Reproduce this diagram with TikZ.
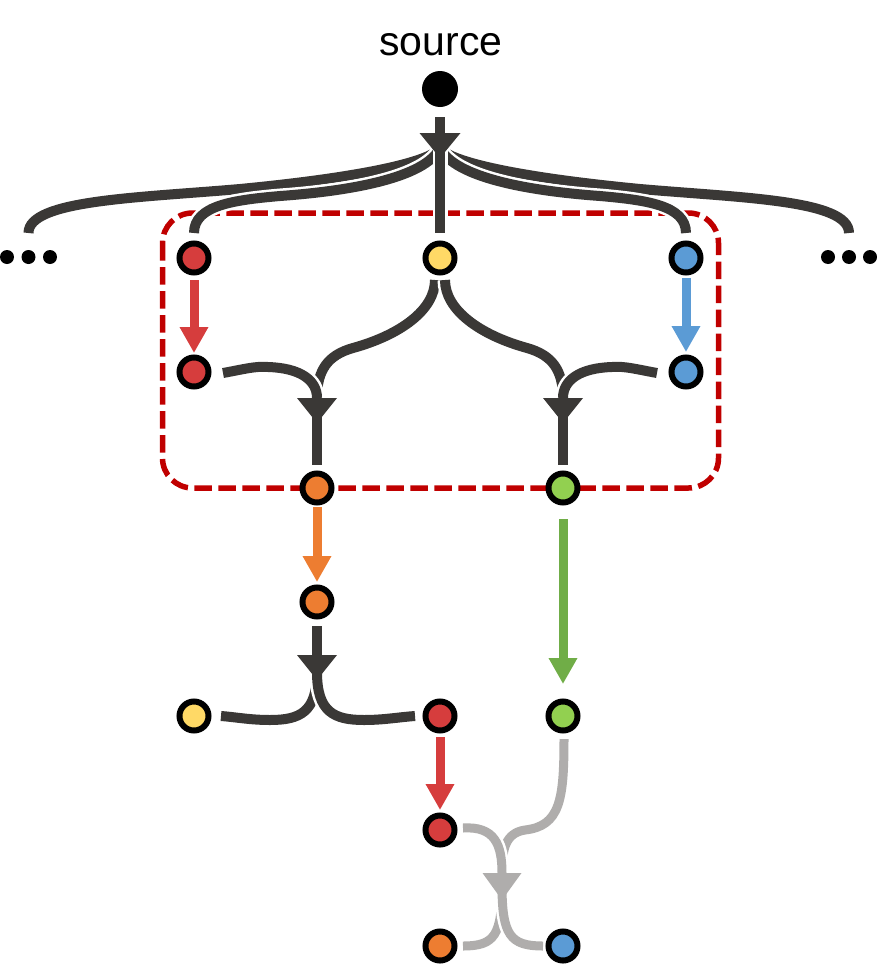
\documentclass[tikz,border=0pt]{standalone}
\usepackage{fontspec}
\setmainfont{Liberation Sans}
\usetikzlibrary{calc,arrows.meta}
\definecolor{cdark}{HTML}{3A3836}
\definecolor{cgrey}{HTML}{AFADAC}
\definecolor{cred}{HTML}{D63D3D}
\definecolor{cyel}{HTML}{FFD966}
\definecolor{cblue}{HTML}{5B9BD5}
\definecolor{corange}{HTML}{ED7D31}
\definecolor{cgreen}{HTML}{92D050}
\definecolor{cgreenarr}{HTML}{70AD47}
\definecolor{cbox}{HTML}{C00000}
\newcommand\dtri[4]{\fill[#1] (#2) ++(-#3,-#4) -- ++(2*#3,0) -- (#2) -- cycle;}
\tikzset{
  cnode/.style={circle, draw=black, line width=6pt, minimum size=29pt, inner sep=0pt, fill=#1},
  bigdot/.style={circle, fill=black, minimum size=36pt, inner sep=0pt},
  smalldot/.style={circle, fill=black, minimum size=14pt, inner sep=0pt},
  darkln/.style={draw=cdark, line width=10pt, preaction={draw=white, line width=15pt}},
  greyln/.style={draw=cgrey, line width=9pt, preaction={draw=white, line width=14pt}},
  dkstem/.style={draw=cdark, line width=10pt},
  carrow/.style={draw=#1, line width=9pt, -{Triangle[length=26pt,width=27pt]}},
  boxdash/.style={draw=cbox, line width=5.5pt, dash pattern=on 17.5pt off 6.5pt, rounded corners=30pt},
  lbl/.style={font=\fontsize{41}{48}\selectfont, anchor=base, inner sep=0pt}
}
\begin{document}
\begin{tikzpicture}[x=1pt,y=-1pt]
\useasboundingbox (0,0) rectangle (877,964);
% dashed group box
\draw[boxdash] (162.5,213) rectangle (718.5,488);
% label and source
\node[lbl] (lab) at (441,55) {source};
\node[bigdot] (src) at (440,89) {};
% dots
\node[smalldot] (ld1) at (7,257) {};
\node[smalldot] (ld2) at (28.5,257) {};
\node[smalldot] (ld3) at (50,257) {};
\node[smalldot] (rd1) at (828,257) {};
\node[smalldot] (rd2) at (849,257) {};
\node[smalldot] (rd3) at (870,257) {};
% commit nodes
\node[cnode=cred]    (r1) at (194,258) {};
\node[cnode=cyel]    (y1) at (440,258) {};
\node[cnode=cblue]   (b1) at (686,258) {};
\node[cnode=cred]    (r2) at (194,372) {};
\node[cnode=cblue]   (b2) at (686,372) {};
\node[cnode=corange] (o3) at (317,488) {};
\node[cnode=cgreen]  (g3) at (563,488) {};
\node[cnode=corange] (o4) at (317,602) {};
\node[cnode=cyel]    (y5) at (194,716) {};
\node[cnode=cred]    (r5) at (440,716) {};
\node[cnode=cgreen]  (g5) at (563,716) {};
\node[cnode=cred]    (r6) at (440,830) {};
\node[cnode=corange] (o7) at (440,946) {};
\node[cnode=cblue]   (b7) at (563,946) {};
% coordinates
\coordinate (sp) at (440,148);
\coordinate (sptri) at (440,134);
\coordinate (lend) at (28.5,233);
\coordinate (rend) at (849,233);
\coordinate (m1) at (317,398);
\coordinate (m2) at (563,398);
\coordinate (s4tri) at (317,656);
\coordinate (s4) at (317,672);
\coordinate (m3) at (502,873);
\coordinate (s5) at (502,885);
% top fan
\draw[darkln] (sp) .. controls (432,160) and (375,176) .. (240,189) .. controls (136,198) and (28.5,200) .. (lend);
\draw[darkln] (sp) .. controls (448,160) and (505,176) .. (640,189) .. controls (744,198) and (849,200) .. (rend);
\draw[darkln, shorten >=7.5pt] (sp) .. controls (425,178) and (350,191) .. (280,196) .. controls (235,200) and (194,205) .. (r1.north);
\draw[darkln, shorten >=7.5pt] (sp) .. controls (455,178) and (530,191) .. (600,196) .. controls (645,200) and (686,205) .. (b1.north);
\draw[darkln, shorten >=7.5pt] (sp) -- (y1.north);
\draw[dkstem, shorten <=10pt] (src) -- (sptri);
\dtri{cdark}{440,158}{20.5}{25}
% coloured arrows
\draw[carrow=cred, shorten <=4.5pt, shorten >=1.5pt] (r1) -- (r2);
\draw[carrow=cblue, shorten <=2.5pt, shorten >=2.5pt] (b1) -- (b2);
\draw[carrow=corange, shorten <=1.5pt, shorten >=2.5pt] (o3) -- (o4);
\draw[carrow=cgreenarr, shorten <=13.5pt, shorten >=14.5pt] (g3) -- (g5);
\draw[carrow=cred, shorten <=3.5pt, shorten >=2.5pt] (r5) -- (r6);
% merge into orange
\draw[darkln] ($(y1.south)+(-5,4.5)$) .. controls (435,310) and (400,335) .. (353,348) .. controls (328,355) and (317,370) .. (m1);
\draw[darkln] ($(r2.east)+(11.5,1)$) .. controls (245,369) and (255,366) .. (268,367) .. controls (300,368) and (317,380) .. (m1);
\draw[dkstem, shorten >=5.5pt] (m1) -- (o3.north);
\dtri{cdark}{317,423}{20}{25}
% merge into green
\draw[darkln] ($(y1.south)+(5,4.5)$) .. controls (445,310) and (480,335) .. (527,348) .. controls (552,355) and (563,370) .. (m2);
\draw[darkln] ($(b2.west)+(-11.5,1)$) .. controls (635,369) and (625,366) .. (612,367) .. controls (580,368) and (563,380) .. (m2);
\draw[dkstem, shorten >=5.5pt] (m2) -- (g3.north);
\dtri{cdark}{563,423}{20}{25}
% split from orange
\draw[dkstem, shorten <=6.5pt] (o4) -- (s4tri);
\draw[darkln] (s4) .. controls (317,712) and (300,720) .. (270,720) .. controls (250,720) and (235,717) .. ($(y5.east)+(9.5,0)$);
\draw[darkln] (s4) .. controls (317,712) and (334,720) .. (364,720) .. controls (384,720) and (400,717) .. ($(r5.west)+(-7.5,0)$);
\dtri{cdark}{317,680}{20}{25}
% grey merge and split
\draw[greyln] ($(g5.south)+(1,5.5)$) .. controls (564,800) and (560,826) .. (525,830) .. controls (505,833) and (502,850) .. (m3);
\draw[greyln] ($(r6.east)+(5.5,-2)$) .. controls (495,826) and (502,845) .. (m3);
\draw[greyln] (s5) .. controls (502,935) and (495,946) .. ($(o7.east)+(5.5,0)$);
\draw[greyln] (s5) .. controls (502,935) and (510,946) .. ($(b7.west)+(-2.5,0)$);
\dtri{cgrey}{502,900}{19.5}{27}
\end{tikzpicture}
\end{document}
